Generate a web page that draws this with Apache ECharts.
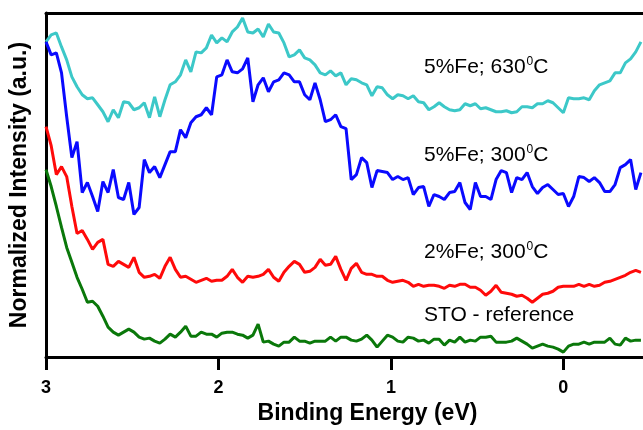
<!DOCTYPE html>
<html>
<head>
<meta charset="utf-8">
<script src="https://cdn.jsdelivr.net/npm/echarts@6/dist/echarts.min.js"></script>
<style>
  html, body { margin: 0; padding: 0; background: #fff; }
  #chart { width: 643px; height: 430px; }
</style>
</head>
<body>
<div id="chart"></div>
<script>
// binding energy grid (eV)
const energy = [
  3.00, 2.97, 2.94, 2.91, 2.88, 2.85, 2.82, 2.79, 2.76, 2.73,
  2.70, 2.67, 2.64, 2.61, 2.58, 2.55, 2.52, 2.49, 2.46, 2.43,
  2.40, 2.37, 2.34, 2.31, 2.28, 2.25, 2.22, 2.19, 2.16, 2.13,
  2.10, 2.07, 2.04, 2.01, 1.98, 1.95, 1.92, 1.89, 1.86, 1.83,
  1.80, 1.77, 1.74, 1.71, 1.68, 1.65, 1.62, 1.59, 1.56, 1.53,
  1.50, 1.47, 1.44, 1.41, 1.38, 1.35, 1.32, 1.29, 1.26, 1.23,
  1.20, 1.17, 1.14, 1.11, 1.08, 1.05, 1.02, 0.99, 0.96, 0.93,
  0.90, 0.87, 0.84, 0.81, 0.78, 0.75, 0.72, 0.69, 0.66, 0.63,
  0.60, 0.57, 0.54, 0.51, 0.48, 0.45, 0.42, 0.39, 0.36, 0.33,
  0.30, 0.27, 0.24, 0.21, 0.18, 0.15, 0.12, 0.09, 0.06, 0.03,
  0.00, -0.03, -0.06, -0.09, -0.12, -0.15, -0.18, -0.21, -0.24, -0.27,
  -0.30, -0.33, -0.36, -0.39, -0.42, -0.45
];

// 5%Fe; 630C (cyan)
const fe5_630 = [
  316, 323, 325, 311, 298, 281, 271, 263, 259, 260,
  253, 246, 236, 248, 240, 256, 255, 248, 250, 255,
  240, 261, 241, 258, 273, 276, 283, 298, 286, 306,
  305, 310, 323, 315, 320, 316, 326, 331, 340, 326,
  325, 329, 321, 334, 326, 325, 315, 301, 303, 308,
  300, 298, 293, 285, 283, 287, 282, 285, 273, 279,
  278, 275, 273, 262, 271, 270, 263, 259, 263, 262,
  259, 262, 256, 255, 248, 251, 255, 251, 248, 247,
  248, 254, 252, 254, 249, 250, 248, 246, 246, 247,
  245, 246, 251, 251, 250, 254, 254, 257, 255, 250,
  245, 260, 259, 259, 260, 258, 267, 273, 275, 277,
  285, 285, 295, 299, 306, 316
];

// 5%Fe; 300C (blue)
const fe5_300 = [
  316, 303, 305, 285, 241, 200, 216, 165, 175, 161,
  146, 176, 165, 188, 160, 158, 175, 143, 150, 198,
  185, 191, 180, 193, 206, 206, 228, 220, 235, 241,
  243, 250, 243, 281, 283, 298, 286, 285, 289, 300,
  256, 273, 280, 266, 276, 278, 285, 283, 276, 276,
  263, 258, 275, 258, 236, 238, 243, 231, 229, 178,
  183, 200, 195, 170, 187, 186, 185, 178, 181, 178,
  180, 163, 170, 171, 151, 163, 161, 158, 165, 166,
  175, 155, 148, 175, 161, 161, 158, 178, 187, 185,
  165, 180, 178, 185, 171, 164, 170, 173, 168, 163,
  164, 151, 161, 181, 180, 176, 180, 175, 166, 166,
  173, 190, 193, 198, 168, 185
];

// 2%Fe; 300C (red)
const fe2_300 = [
  231, 212, 183, 191, 181, 151, 124, 127, 118, 108,
  115, 118, 93, 91, 96, 93, 90, 100, 85, 80,
  81, 83, 79, 91, 100, 88, 80, 81, 78, 75,
  77, 79, 76, 77, 77, 81, 88, 80, 75, 81,
  80, 81, 83, 88, 80, 76, 85, 91, 96, 93,
  85, 86, 90, 98, 92, 93, 101, 88, 77, 89,
  94, 85, 83, 83, 81, 81, 77, 75, 76, 77,
  75, 71, 73, 71, 72, 72, 71, 69, 72, 71,
  73, 73, 70, 70, 67, 62, 66, 72, 65, 64,
  63, 61, 62, 59, 55, 59, 63, 64, 66, 70,
  71, 71, 71, 73, 71, 73, 71, 72, 75, 76,
  78, 80, 82, 85, 87, 85
];

// STO - reference (green)
const sto_ref = [
  188, 171, 151, 130, 110, 95, 80, 68, 55, 56,
  51, 41, 30, 25, 22, 25, 28, 25, 20, 18,
  19, 16, 14, 18, 23, 20, 25, 31, 21, 21,
  25, 23, 23, 20, 24, 25, 25, 23, 22, 19,
  22, 33, 15, 16, 13, 11, 15, 15, 20, 16,
  16, 14, 16, 16, 16, 20, 16, 20, 20, 17,
  16, 18, 22, 17, 10, 16, 22, 20, 16, 15,
  20, 19, 16, 17, 14, 18, 18, 12, 17, 15,
  20, 15, 17, 16, 20, 20, 21, 15, 15, 15,
  16, 19, 16, 13, 9, 11, 13, 11, 10, 8,
  5, 11, 13, 13, 15, 13, 15, 15, 15, 19,
  13, 12, 19, 16, 17, 17
];

const xTicks = [3, 2, 1, 0];
const seriesNames = ['5%Fe; 630⁰C', '5%Fe; 300⁰C', '2%Fe; 300⁰C', 'STO - reference'];

const FONT = "'Liberation Sans', Arial, sans-serif";

function pairs(values) {
  return energy.map((e, i) => [e, values[i]]);
}

function lineSeries(name, values, color) {
  return {
    name: name,
    type: 'line',
    data: pairs(values),
    showSymbol: false,
    lineStyle: { color: color, width: 3 },
    itemStyle: { color: color },
    clip: true
  };
}

// 图中的文字标注（上标 0）
function label(main, sup, tail, yCenter) {
  const rich = {
    a: { fontSize: 21, fontFamily: FONT, color: '#222', lineHeight: 24 },
    s: { fontSize: 12, fontFamily: FONT, color: '#222', verticalAlign: 'top', lineHeight: 24, padding: [1, 0, 0, 1] }
  };
  const text = sup ? '{a|' + main + '}{s|' + sup + '}{a|' + tail + '}' : '{a|' + main + '}';
  return {
    type: 'text',
    left: 424,
    top: yCenter - 12,
    style: { text: text, rich: rich }
  };
}

const chart = echarts.init(document.getElementById('chart'));

const option = {
  animation: false,
  backgroundColor: '#fff',
  grid: { left: 44, right: 0, top: 13, bottom: 72 },
  xAxis: [
    {
      type: 'value',
      inverse: true,
      min: -0.462,
      max: 3,
      name: 'Binding Energy (eV)',
      nameLocation: 'middle',
      nameGap: 43,
      nameTextStyle: { fontSize: 23, fontWeight: 'bold', fontFamily: FONT, color: '#000', padding: [0, 0, 0, 46] },
      axisLine: { onZero: false, lineStyle: { color: '#000', width: 3 } },
      axisTick: { show: true, length: 13, customValues: xTicks, lineStyle: { color: '#000', width: 3 } },
      axisLabel: { customValues: xTicks, margin: 22, fontSize: 18, fontWeight: 'bold', fontFamily: FONT, color: '#000' },
      splitLine: { show: false }
    },
    {
      // 顶部边框
      type: 'value',
      position: 'top',
      inverse: true,
      min: -0.462,
      max: 3,
      axisLine: { onZero: false, lineStyle: { color: '#000', width: 3 } },
      axisTick: { show: false },
      axisLabel: { show: false },
      splitLine: { show: false }
    }
  ],
  yAxis: {
    type: 'value',
    min: 0,
    max: 345,
    name: 'Normalized Intensity (a.u.)',
    nameLocation: 'middle',
    nameGap: 15,
    nameTextStyle: { fontSize: 23, fontWeight: 'bold', fontFamily: FONT, color: '#000' },
    axisLine: { show: true, onZero: false, lineStyle: { color: '#000', width: 3 } },
    axisTick: { show: false },
    axisLabel: { show: false },
    splitLine: { show: false }
  },
  series: [
    lineSeries(seriesNames[0], fe5_630, '#3cc8c8'),
    lineSeries(seriesNames[1], fe5_300, '#0a0aff'),
    lineSeries(seriesNames[2], fe2_300, '#ff0a0a'),
    lineSeries(seriesNames[3], sto_ref, '#0a780a')
  ],
  graphic: [
    label('5%Fe; 630', '0', 'C', 67),
    label('5%Fe; 300', '0', 'C', 155),
    label('2%Fe; 300', '0', 'C', 252),
    label('STO - reference', null, null, 317)
  ]
};

chart.setOption(option);
</script>
</body>
</html>
